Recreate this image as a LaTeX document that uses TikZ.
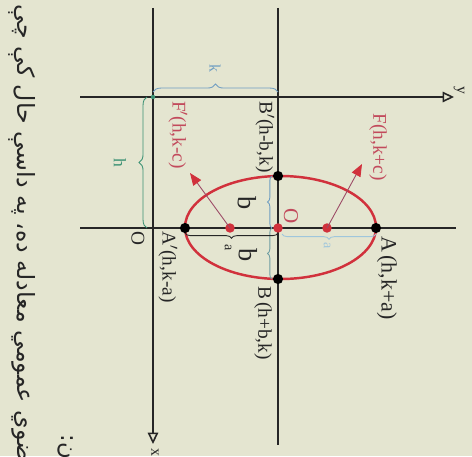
\documentclass[tikz,border=0pt]{standalone}
\usepackage{fontspec}
\setmainfont{Liberation Serif}
\newfontfamily\pashtofont[Script=Arabic]{DejaVu Sans}
\TeXXeTstate=1
\usetikzlibrary{arrows.meta,decorations.pathreplacing}
\definecolor{paper}{HTML}{E4E5D0}
\definecolor{ink}{HTML}{262626}
\definecolor{curve}{HTML}{D1313C}
\definecolor{rose}{HTML}{C24A5C}
\definecolor{wine}{HTML}{9C4A66}
\definecolor{sky}{HTML}{6F9EC2}
\definecolor{pale}{HTML}{9FC6DC}
\definecolor{sea}{HTML}{3C9274}
\definecolor{slate}{HTML}{6E9EA3}
\tikzset{
  axis/.style={draw=ink,line width=.9pt},
  axisarrow/.style={axis,-{Triangle[open,length=6.5pt,width=6pt]}},
  dotblack/.style={circle,fill=black,minimum size=5.8pt,inner sep=0pt},
  dotred/.style={circle,fill=curve,minimum size=5.4pt,inner sep=0pt},
  focusray/.style={draw=wine,line width=.5pt,-{Triangle[length=7pt,width=5.5pt,color=curve]}},
  bracket/.style={decorate,decoration={brace,amplitude=#1},line width=.5pt},
  lbl/.style={rotate=-90,font=\fontsize{11}{12}\selectfont,text=ink,inner sep=0pt},
  every node/.style={text=ink}
}
\newcommand{\smallfont}{\fontsize{8}{9}\selectfont}
\newcommand{\bigfont}{\fontsize{15}{16}\selectfont}

\begin{document}
\begin{tikzpicture}[x=0.02cm,y=-0.02cm]
  \clip (0,0) rectangle (472,456);
  \fill[paper] (0,0) rectangle (472,456);

  % ======================== TEXT COLUMN ========================
  \node[rotate=-90,anchor=west,inner sep=0pt,
        font=\pashtofont\fontsize{13.5}{14}\selectfont] (title) at (22,4)
    {\beginR بیضوي عمومي معادله ده، په داسې حال کې چې\endR};
  \node[rotate=-90,inner sep=0pt,
        font=\pashtofont\fontsize{13}{14}\selectfont] (frag) at (66,447)
    {\beginR ن:\endR};

  % ======================== AXES ========================
  \coordinate (xtop) at (153,8);
  \coordinate (xend) at (153,444);
  \coordinate (ctop) at (278,8);
  \coordinate (cend) at (278,445);
  \coordinate (ystart) at (80,97);
  \coordinate (yend) at (454,97);
  \coordinate (mstart) at (80,228);
  \coordinate (mend) at (456,228);
  \draw[axisarrow] (xtop)--(xend);
  \draw[axisarrow] (ystart)--(yend);
  \draw[axis] (ctop)--(cend);
  \draw[axis] (mstart)--(mend);
  \node[lbl,font=\fontsize{9}{10}\selectfont] (xlab) at (155,452) {x};
  \node[lbl,font=\fontsize{9}{10}\selectfont] (ylab) at (459,90) {y};
  \node[lbl] (olab) at (138,238) {O};
  \fill[sea] (153,97) circle (2.2);

  % ======================== ELLIPSE ========================
  \draw[curve,line width=1.4pt] (280.5,227.5) ellipse [x radius=95.5,y radius=51.5];

  % vertices and foci
  \node[dotred] (ctr) at (278,228) {};
  \node[dotred] (Fp) at (230,228) {};
  \node[dotred] (F) at (327,228) {};
  \node[dotblack] (Ap) at (185,228) {};
  \node[dotblack] (A) at (376,228) {};
  \node[dotblack] (Bp) at (278,176) {};
  \node[dotblack] (B) at (278,279) {};

  \coordinate (fptip) at (190,173);
  \coordinate (ftip) at (362,164);
  \draw[focusray] (Fp.center)--(fptip);
  \draw[focusray] (F.center)--(ftip);

  % labels
  \node[lbl,text=rose] (lFp) at (178,135) {F$'$(h,k-c)};
  \node[lbl,text=rose] (lF) at (378,147) {F(h,k+c)};
  \node[lbl] (lBp) at (265,137) {B$'$(h-b,k)};
  \node[lbl] (lB) at (263,323) {B\,(h+b,k)};
  \node[lbl] (lAp) at (168,267) {A$'$(h,k-a)};
  \node[lbl,font=\fontsize{12.5}{13}\selectfont] (lA) at (387,278) {A\,(h,k+a)};
  \node[lbl,text=rose,font=\fontsize{12}{13}\selectfont] (lO) at (291,216) {O};

  % ======================== BRACES ========================
  \draw[bracket=4.5pt,sky] (153,92)--(278,92);
  \node[lbl,text=sky,font=\fontsize{9}{10}\selectfont] (klab) at (215,68) {k};
  \draw[bracket=4.5pt,sea] (147,228)--(147,97);
  \node[lbl,text=sea,font=\fontsize{10}{11}\selectfont] (hlab) at (120,163) {h};

  \draw[bracket=2.5pt,sky] (272,228)--(272,176);
  \draw[bracket=2.5pt,slate] (272,279)--(272,228);
  \node[lbl,font=\bigfont] (btop) at (247,203) {b};
  \node[lbl,font=\bigfont] (bbot) at (248,255) {b};

  \draw[bracket=3pt,ink] (278,233)--(185,233);
  \node[lbl,font=\smallfont] (alft) at (228,248) {a};
  \draw[bracket=3pt,pale] (376,234)--(282,234);
  \node[lbl,text=pale,font=\smallfont] (argt) at (327,246) {a};
\end{tikzpicture}
\end{document}
